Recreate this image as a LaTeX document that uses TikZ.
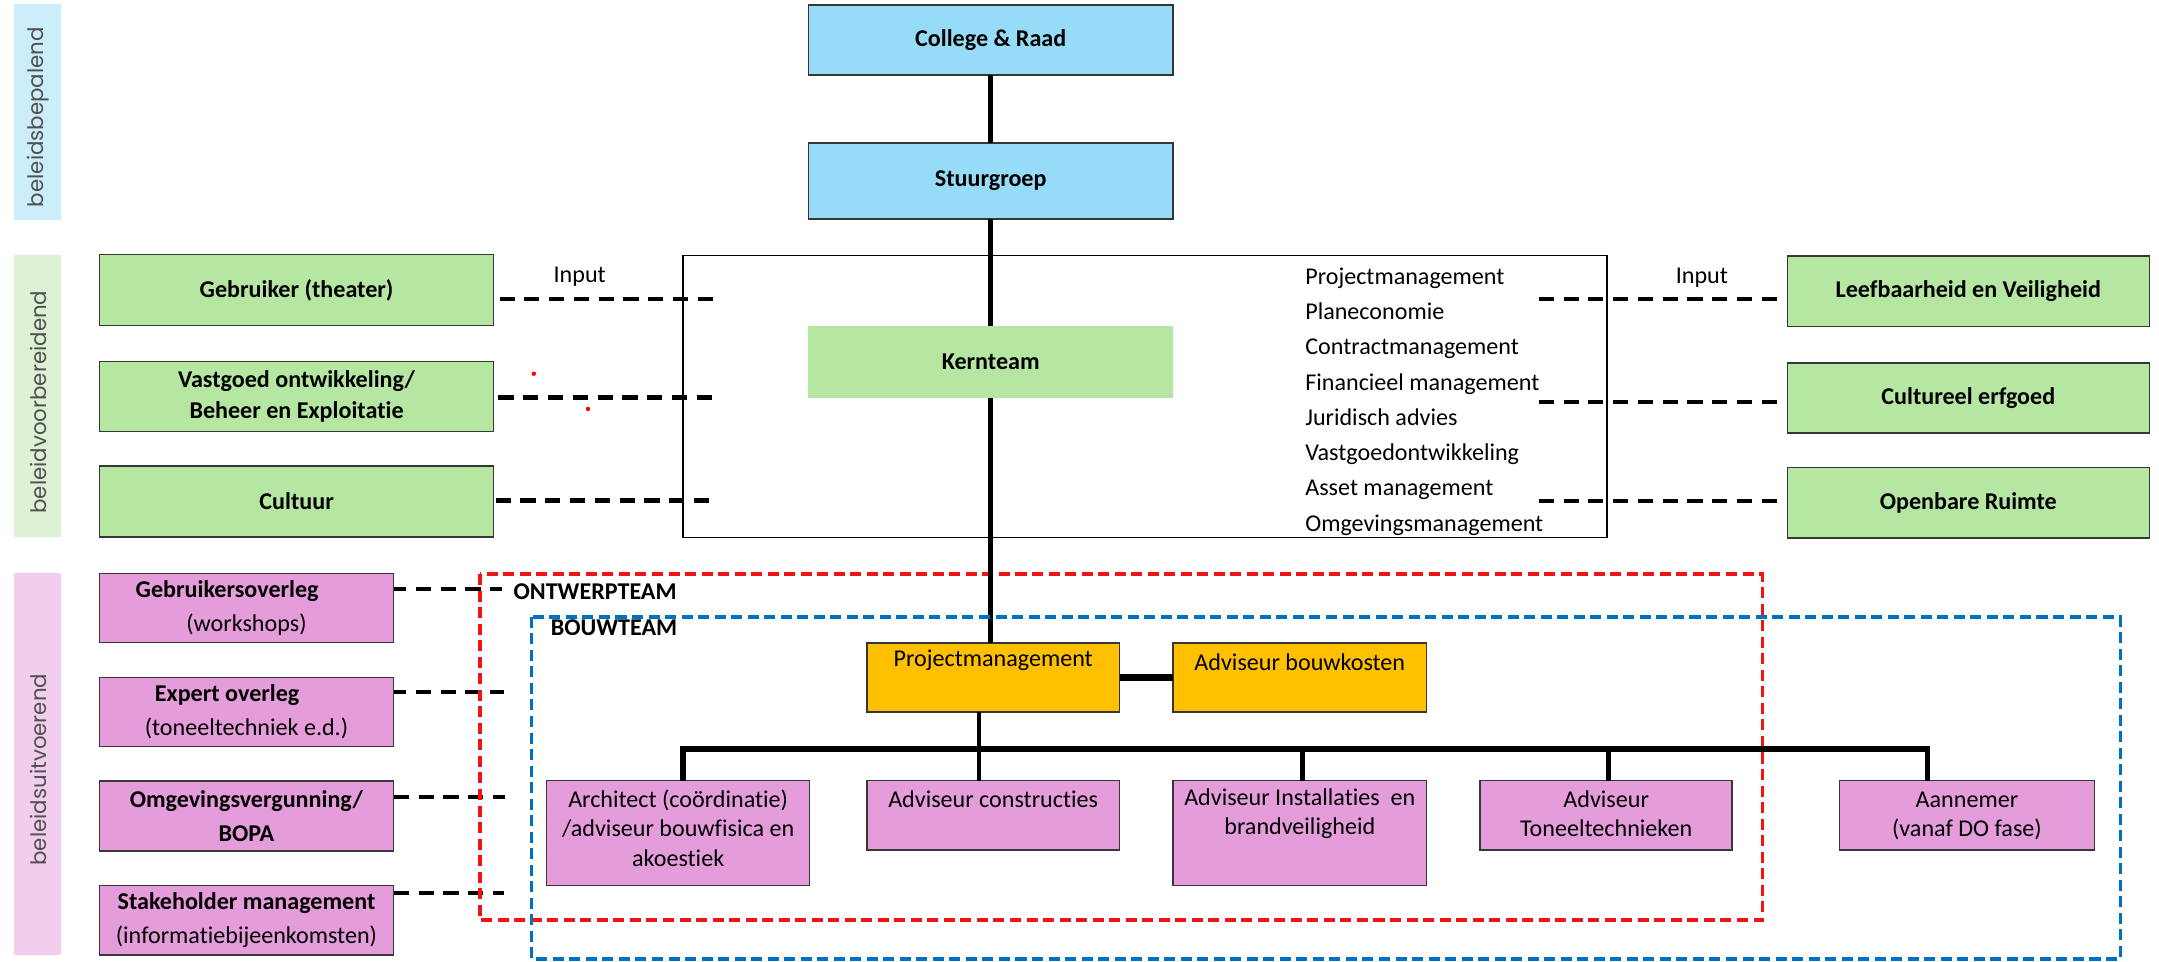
\documentclass[tikz,border=0pt]{standalone}
\usepackage{fontspec}
\setmainfont{Carlito}[Ligatures=NoCommon]
\newfontfamily\stripfont{Poppins}
\usetikzlibrary{calc}
\definecolor{blfill}{RGB}{150,219,247}
\definecolor{grfill}{RGB}{181,230,162}
\definecolor{pkfill}{RGB}{228,156,218}
\definecolor{orfill}{RGB}{255,192,0}
\definecolor{stripblue}{RGB}{204,238,251}
\definecolor{stripgreen}{RGB}{221,242,212}
\definecolor{strippink}{RGB}{242,206,238}
\definecolor{edge}{RGB}{55,55,55}
\definecolor{stripgray}{RGB}{80,80,80}
\definecolor{dashred}{RGB}{240,20,20}
\definecolor{dashblue}{RGB}{0,112,192}
\begin{document}
\begin{tikzpicture}[x=1pt,y=-1pt,
  every node/.style={font=\fontsize{17.5}{21.5}\selectfont},
  box/.style={draw=edge, line width=1.1pt, inner sep=0pt, outer sep=0pt, align=center},
  txt/.style={inner sep=0pt, outer sep=0pt, align=center},
  bfont/.style={font=\bfseries\fontsize{17.5}{22}\selectfont},
  twofont/.style={font=\fontsize{17.5}{25}\selectfont},
  conn/.style={line width=3.5pt},
  dashline/.style={line width=3pt, dash pattern=on 11pt off 7pt},
  reddash/.style={draw=dashred, line width=2.6pt, dash pattern=on 8pt off 4pt},
  bluedash/.style={draw=dashblue, line width=2.6pt, dash pattern=on 8pt off 4pt},
  strip/.style={inner sep=0pt, outer sep=0pt},
  striptxt/.style={rotate=90, text=stripgray, font=\stripfont\fontsize{15.5}{18}\selectfont, inner sep=0pt}]
\useasboundingbox (0,0) rectangle (1568,698);

% side strips
\node[strip, fill=stripblue, minimum width=34, minimum height=157] (sblue) at (27,81.5) {};
\node[strip, fill=stripgreen, minimum width=34, minimum height=205] (sgreen) at (27,287.5) {};
\node[strip, fill=strippink, minimum width=34, minimum height=277] (spink) at (27,555) {};
\node[striptxt] (tblue) at (28,85) {beleidsbepalend};
\node[striptxt] (tgreen) at (28,292) {beleidvoorbereidend};
\node[striptxt] (tpink) at (28,559) {beleidsuitvoerend};

% dashed input connectors (upper)
\coordinate (dl1a) at (362.8,217); \coordinate (dl1b) at (518.5,217);
\coordinate (dl2a) at (362,288.7); \coordinate (dl2b) at (518.5,288.7);
\coordinate (dl3a) at (360,363.5); \coordinate (dl3b) at (516.7,363.5);
\coordinate (dr1a) at (1117.5,217.4); \coordinate (dr1b) at (1291,217.4);
\coordinate (dr2a) at (1117.5,291.7); \coordinate (dr2b) at (1291,291.7);
\coordinate (dr3a) at (1117.5,363.6); \coordinate (dr3b) at (1291,363.6);
\draw[dashline] (dl1a) -- (dl1b);
\draw[dashline] (dl2a) -- (dl2b);
\draw[dashline] (dl3a) -- (dl3b);
\draw[dashline] (dr1a) -- (dr1b);
\draw[dashline] (dr2a) -- (dr2b);
\draw[dashline] (dr3a) -- (dr3b);

% dashed connectors (lower left)
\coordinate (dp1a) at (284,428); \coordinate (dp1b) at (364.4,428);
\coordinate (dp2a) at (284,502.8); \coordinate (dp2b) at (366,502.8);
\coordinate (dp3a) at (286,578.6); \coordinate (dp3b) at (367,578.6);
\coordinate (dp4a) at (286,648.7); \coordinate (dp4b) at (366,648.7);
\draw[dashline] (dp1a) -- (dp1b);
\draw[dashline] (dp2a) -- (dp2b);
\draw[dashline] (dp3a) -- (dp3b);
\draw[dashline] (dp4a) -- (dp4b);

% Kernteam frame
\node[draw=black, line width=1pt, inner sep=0pt, outer sep=0pt, minimum width=671, minimum height=205] (kframe) at (831.5,288) {};
\node[txt, anchor=west, align=left, font=\fontsize{17.5}{25.6}\selectfont] (list) at (948,291.6)
  {Projectmanagement\\Planeconomie\\Contractmanagement\\Financieel management\\Juridisch advies\\Vastgoedontwikkeling\\Asset management\\Omgevingsmanagement};

% top boxes
\node[box, bfont, fill=blfill, minimum width=265, minimum height=51] (college) at (719.5,29) {College \& Raad};
\node[box, bfont, fill=blfill, minimum width=265, minimum height=55] (stuur) at (719.5,131.5) {Stuurgroep};
\node[box, bfont, draw=none, fill=grfill, minimum width=265, minimum height=52] (kern) at (719.5,263) {Kernteam};

% left green boxes
\node[box, bfont, fill=grfill, minimum width=286, minimum height=51.5] (geb) at (215.4,210.7) {Gebruiker (theater)};
\node[box, bfont, fill=grfill, minimum width=286, minimum height=51] (vast) at (215.4,288) {Vastgoed ontwikkeling/\\Beheer en Exploitatie};
\node[box, bfont, fill=grfill, minimum width=286, minimum height=51.5] (cult) at (215.4,364.3) {Cultuur};

% right green boxes
\node[box, bfont, fill=grfill, minimum width=263, minimum height=51] (leef) at (1429.5,211.5) {Leefbaarheid en Veiligheid};
\node[box, bfont, fill=grfill, minimum width=263, minimum height=51] (erf) at (1429.5,289) {Cultureel erfgoed};
\node[box, bfont, fill=grfill, minimum width=263, minimum height=51] (openb) at (1429.5,365.2) {Openbare Ruimte};

% input labels
\node[txt] (inl) at (421,201) {Input};
\node[txt] (inr) at (1236,201.5) {Input};

% red dots
\fill[red] (387.7,271.4) circle (1.6);
\fill[red] (427,297) circle (1.6);

% left pink boxes
\node[box, twofont, fill=pkfill, minimum width=213.5, minimum height=50] (gov) at (179,441.5) {\textbf{Gebruikersoverleg}\hspace*{28pt}\\(workshops)};
\node[box, twofont, fill=pkfill, minimum width=213.5, minimum height=50] (exp) at (179,517) {\textbf{Expert overleg}\hspace*{28pt}\\(toneeltechniek e.d.)};
\node[box, twofont, fill=pkfill, minimum width=213.5, minimum height=51] (omg) at (179,592.6) {\textbf{Omgevingsvergunning/}\\\textbf{BOPA}};
\node[box, twofont, fill=pkfill, minimum width=213.5, minimum height=50.5] (stk) at (179,668.2) {\textbf{Stakeholder management}\\(informatiebijeenkomsten)};

% red dashed frame
\draw[reddash] (348.5,417) rectangle (1280,668);
\node[txt, anchor=west, font=\bfseries\fontsize{17.5}{21.5}\selectfont] (ontw) at (373,430) {ONTWERPTEAM};

% orange boxes
\node[box, fill=orfill, minimum width=183.5, minimum height=50] (pm) at (721.3,492) {};
\node[txt] (pmt) at (721.3,479.5) {Projectmanagement};
\node[box, fill=orfill, minimum width=184, minimum height=50] (bk) at (944,492) {};
\node[txt] (bkt) at (944,481) {Adviseur bouwkosten};

% lower pink boxes
\node[box, fill=pkfill, minimum width=191, minimum height=76] (arch) at (492.5,605) {};
\node[txt] (archt) at (492.5,601.5) {Architect (coördinatie)\\/adviseur bouwfisica en\\akoestiek};
\node[box, fill=pkfill, minimum width=183.5, minimum height=50.5] (cons) at (721.3,592.2) {};
\node[txt] (const) at (721.3,580.5) {Adviseur constructies};
\node[box, fill=pkfill, minimum width=184, minimum height=76] (inst) at (944,605) {};
\node[txt] (instt) at (944,591) {Adviseur Installaties~ en\\brandveiligheid};
\node[box, fill=pkfill, minimum width=183, minimum height=50.5] (tone) at (1166.5,592.2) {};
\node[txt] (tonet) at (1166.5,591) {Adviseur\\Toneeltechnieken};
\node[box, fill=pkfill, minimum width=185, minimum height=50.5] (aann) at (1428.5,592.2) {};
\node[txt] (aannt) at (1428.5,592.5) {Aannemer\\(vanaf DO fase)};

% solid connectors
\draw[conn] (college.south) -- (stuur.north);
\draw[conn] (stuur.south) -- (kern.north);
\draw[conn] (kern.south) -- (kern.south |- pm.north);
\draw[conn, line width=4.5pt] (pm.east) -- (bk.west);
\coordinate (b1) at (496,544);
\coordinate (b2) at (711,544);
\coordinate (b3) at (946,544);
\coordinate (b4) at (1168,544);
\coordinate (b5) at (1400,544);
\draw[conn] (b2 |- pm.south) -- (b2);
\draw[conn, line width=4pt] (b1 |- arch.north) -- (b1) -- (b5) -- (b5 |- aann.north);
\draw[conn] (b2) -- (b2 |- cons.north);
\draw[conn] (b3) -- (b3 |- inst.north);
\draw[conn] (b4) -- (b4 |- tone.north);

% blue dashed frame
\draw[bluedash] (386,448) rectangle (1540,696.5);
\node[txt, anchor=west, font=\bfseries\fontsize{17.5}{21.5}\selectfont] (bouw) at (400,456) {BOUWTEAM};
\end{tikzpicture}
\end{document}
